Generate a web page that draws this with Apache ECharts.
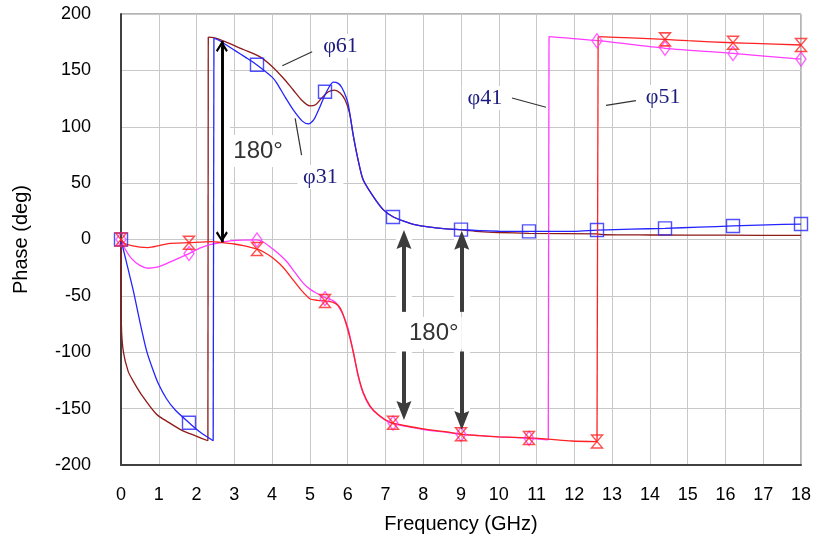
<!DOCTYPE html>
<html>
<head>
<meta charset="utf-8">
<script src="https://cdn.jsdelivr.net/npm/echarts@6.0.0/dist/echarts.min.js"></script>
<style>
  html, body { margin: 0; padding: 0; background: #ffffff; }
  #chart { width: 817px; height: 542px; }
</style>
</head>
<body>
<div id="chart"></div>
<script>
// Phase responses [frequency GHz, phase deg]; each curve is split where it wraps by 360°.
const phi61Low = [[0,0],[0.01,-75],[0.06,-99],[0.19,-117],[0.33,-126],[0.55,-138],[0.94,-155],[1.25,-162],[1.6,-169],[1.96,-174],[2.30,-178.5]];
const phi61High = [[2.31,179.5],[2.53,178.4],[3.0,172],[3.24,168.5],[3.68,162],[4.0,153.5],[4.3,143],[4.56,132.6],[4.8,123],[5.0,118.5],[5.15,119.5],[5.3,125],[5.49,131],[5.65,132.5],[5.8,130],[5.93,124],[6.05,112],[6.15,92],[6.28,70],[6.41,53],[6.68,38],[6.94,26.5],[7.21,20],[7.5,16],[7.74,13.5],[8.18,11],[8.62,9.5],[9.02,8.5],[9.5,7],[10,6.2],[10.8,5.5],[12.6,5.0],[12.8,4.2],[14,4],[16,3.8],[18,3.6]];

const phi31Low = [[0,0],[0.15,-21],[0.33,-46],[0.5,-73],[0.68,-99],[0.85,-116],[0.99,-128],[1.2,-141],[1.43,-151],[1.8,-162.5],[2.1,-171],[2.44,-178.5]];
const phi31High = [[2.46,178.5],[2.6,176.5],[3.02,167.5],[3.3,161.5],[3.59,155],[4.0,144],[4.12,139],[4.35,126],[4.56,115],[4.8,105],[4.96,102.5],[5.1,106],[5.27,118],[5.44,131],[5.62,139.5],[5.75,138.5],[5.84,135],[5.95,127],[6.02,119],[6.15,92],[6.28,70],[6.41,53],[6.68,38],[6.94,26.5],[7.21,20],[7.5,16],[7.74,13.5],[8.18,11],[8.62,9.5],[9.02,8.8],[9.5,7.8],[10,7.3],[10.8,7.2],[12,7.2],[12.6,8.4],[13.5,9.2],[14.4,9.9],[15.3,11],[16.2,12],[17.1,13],[18,13.7]];

const phi41Low = [[0,0],[0.1,-8],[0.28,-17],[0.5,-23],[0.72,-25.5],[0.95,-24.5],[1.16,-22],[1.5,-17],[1.8,-12.5],[2.1,-7.5],[2.31,-4.9],[2.67,-2.5],[2.88,-1.3],[3.2,-0.5],[3.59,-0.4],[3.75,-2],[3.94,-6.4],[4.15,-12],[4.39,-19.7],[4.6,-29],[4.83,-38.9],[5.0,-44],[5.18,-47.7],[5.4,-51.5],[5.6,-54],[5.71,-57],[5.82,-63],[5.92,-70],[6.02,-80],[6.15,-100],[6.28,-121.7],[6.41,-136.4],[6.59,-148.3],[6.81,-155.7],[7.12,-162.5],[7.56,-165.8],[8.0,-168.5],[8.62,-171],[9.02,-172.8],[9.5,-174],[10.0,-175],[10.8,-176.3],[11.31,-177.8]];
const phi41High = [[11.33,180],[12.63,176.3],[14.4,169.6],[16.2,165],[18,160]];

const phi51Low = [[0,0],[0.1,-3.5],[0.28,-5.5],[0.5,-6.8],[0.72,-7.2],[1.0,-5.5],[1.25,-3.6],[1.8,-2.8],[2.4,-1.9],[2.62,-2.5],[3.0,-4],[3.24,-5.5],[3.59,-8.4],[3.8,-11.5],[4.03,-16.7],[4.3,-25],[4.56,-36],[4.8,-46],[5.0,-52.5],[5.2,-54],[5.4,-54.5],[5.6,-55.5],[5.75,-58.5],[5.85,-64],[5.97,-76],[6.05,-86],[6.15,-100],[6.28,-120.5],[6.41,-135.5],[6.59,-147.5],[6.81,-155.5],[7.12,-162],[7.56,-165.4],[8.0,-168],[8.62,-170.7],[9.02,-172.8],[9.5,-174],[10,-175],[10.8,-176],[11.3,-177],[11.93,-178.7],[12.6,-179.2]];
const phi51High = [[12.63,180],[13.5,178.8],[14.4,177.5],[15.0,176.3],[16.2,174.5],[16.74,174],[18,172.5]];

// Marker positions (every 1.8 GHz)
const markerFreqs = [0, 1.8, 3.6, 5.4, 7.2, 9.0, 10.8, 12.6, 14.4, 16.2, 18];
const phi31Marks = [0, -162.5, 155, 131, 20, 8.8, 7.2, 8.4, 9.9, 12, 13.7];
const phi41Marks = [0, -12.5, -0.4, -52.5, -162.8, -172.8, -176.3, 176.3, 169.6, 165, 160];
const phi51Marks = [0, -2.8, -8.4, -54.5, -162.5, -172.8, -176, -179.2, 177.5, 174.5, 172.5];

// Curve labels: [text, frequency, phase] and leader lines [f0, p0, f1, p1]
const curveLabels = [['φ61', 5.81, 171.6], ['φ31', 5.28, 55.4], ['φ41', 9.63, 125.5], ['φ51', 14.35, 126.4]];
const leaderLines = [[4.27, 154.1, 5.06, 166.5], [4.61, 107.5, 4.78, 74.9], [10.35, 125.5, 11.25, 117.3], [12.84, 119, 13.63, 123.1]];

// 180° spans: black double arrow [f, tip1, tip2], grey arrows [f, tail, tip]
const spanArrow = [2.67, 176, -2.5];
const greyArrows = [[7.49, -64, 8.4], [9.02, -64, 7.8], [7.49, -99.5, -160], [9.02, -99.5, -169]];
const spanLabels = [['180°', 3.63, 78.5], ['180°', 8.28, -83]];

const COLORS = { phi61: '#8f1a1a', phi31: '#2424ff', phi41: '#ff3cff', phi51: '#ff2222' };
const SANS = 'Liberation Sans, Arial, Helvetica, sans-serif';
const SERIF = 'Liberation Serif, Times New Roman, serif';

const chevron = 'path://M50,0 L100,78 L86,92 L50,32 L14,92 L0,78 Z';
const arrowHead = 'path://M50,0 L100,100 L50,84 L0,100 Z';
const hourglass = 'path://M0,0 L10,0 L0,10 L10,10 Z';

// Arrow head sizes in px, and the y scale used to pull the head centre back from the tip
const CHEV = [12, 11], HEAD = [15, 19];
const PX_PER_DEG = 451 / 400;

function branch(data, color) {
  return { type: 'line', data: data, smooth: 0.25, symbol: 'none', showSymbol: false,
           lineStyle: { color: color, width: 1.3 }, silent: true, z: 2 };
}
function jump(a, b, color) {
  return { type: 'line', data: [a[a.length - 1], b[0]], symbol: 'none', showSymbol: false,
           lineStyle: { color: color, width: 1.3 }, silent: true, z: 2 };
}
function markers(vals, color, symbol, size) {
  return { type: 'scatter', data: markerFreqs.map((f, i) => [f, vals[i]]), symbol: symbol, symbolSize: size,
           itemStyle: { color: 'rgba(0,0,0,0)', borderColor: color, borderWidth: 1.4 }, silent: true, z: 3 };
}
function seg(f, a, b) { return [{ coord: [f, a] }, { coord: [f, b] }]; }
function pullBack(tail, tip, sizePx) {
  const d = (sizePx / 2) / PX_PER_DEG;
  return tip > tail ? tip - d : tip + d;
}
function markLineSeries(opts) {
  return { type: 'line', data: [], silent: true,
           markLine: Object.assign({ silent: true, animation: false, label: { show: false },
                                     emphasis: { disabled: true } }, opts) };
}

const series = [];
series.push(branch(phi61Low, COLORS.phi61), jump(phi61Low, phi61High, COLORS.phi61), branch(phi61High, COLORS.phi61));
series.push(branch(phi41Low, COLORS.phi41), jump(phi41Low, phi41High, COLORS.phi41), branch(phi41High, COLORS.phi41));
series.push(branch(phi31Low, COLORS.phi31), jump(phi31Low, phi31High, COLORS.phi31), branch(phi31High, COLORS.phi31));
series.push(branch(phi51Low, COLORS.phi51), jump(phi51Low, phi51High, COLORS.phi51), branch(phi51High, COLORS.phi51));
series.push(markers(phi41Marks, COLORS.phi41, 'diamond', [10, 14]));
series.push(markers(phi31Marks, COLORS.phi31, 'rect', [13, 13]));
series.push(markers(phi51Marks, COLORS.phi51, hourglass, [11, 13]));

// White halos behind the arrows so grid lines break around them
series.push(markLineSeries({
  z: 1, symbol: ['none', 'none'],
  lineStyle: { color: '#ffffff', width: 16, type: 'solid', cap: 'butt' },
  data: [seg(spanArrow[0], spanArrow[1], spanArrow[2])].concat(greyArrows.map(a => seg(a[0], a[1], a[2])))
}));

// Black double-headed arrow: shaft, then the two open heads
series.push(markLineSeries({
  z: 6, symbol: ['none', 'none'],
  lineStyle: { color: '#000000', width: 2.6, type: 'solid' },
  data: [seg(spanArrow[0], spanArrow[1], spanArrow[2])]
}));
series.push(markLineSeries({
  z: 6, symbol: [chevron, chevron], symbolSize: CHEV,
  lineStyle: { color: '#000000', width: 2.6, type: 'solid' },
  data: [seg(spanArrow[0], pullBack(spanArrow[2], spanArrow[1], CHEV[1]), pullBack(spanArrow[1], spanArrow[2], CHEV[1]))]
}));

// Grey arrows pointing at the curves: shafts, then heads
series.push(markLineSeries({
  z: 6, symbol: ['none', 'none'],
  lineStyle: { color: '#3c3c3c', width: 3.8, type: 'solid' },
  data: greyArrows.map(a => seg(a[0], a[1], pullBack(a[1], a[2], HEAD[1])))
}));
series.push(markLineSeries({
  z: 6, symbol: ['none', arrowHead], symbolSize: HEAD,
  lineStyle: { color: '#3c3c3c', width: 3.8, type: 'solid' },
  data: greyArrows.map(a => seg(a[0], a[1], pullBack(a[1], a[2], HEAD[1])))
}));

// Leader lines
series.push(markLineSeries({
  z: 6, symbol: ['none', 'none'],
  lineStyle: { color: '#333333', width: 1.2, type: 'solid' },
  data: leaderLines.map(l => [{ coord: [l[0], l[1]] }, { coord: [l[2], l[3]] }])
}));

// Text labels on white boxes
series.push({
  type: 'line', data: [], silent: true,
  markPoint: {
    z: 7, silent: true, animation: false,
    data: curveLabels.map(l => ({
      coord: [l[1], l[2]], symbol: 'rect', symbolSize: [46, 24],
      itemStyle: { color: '#ffffff' },
      label: { show: true, position: 'inside', formatter: l[0], color: '#1c1c80',
               fontFamily: SERIF, fontSize: 22 }
    })).concat(spanLabels.map(l => ({
      coord: [l[1], l[2]], symbol: 'rect', symbolSize: [56, 32],
      itemStyle: { color: '#ffffff' },
      label: { show: true, position: 'inside', formatter: l[0], color: '#333333',
               fontFamily: SANS, fontSize: 24 }
    })))
  }
});

const chart = echarts.init(document.getElementById('chart'), null, { renderer: 'canvas' });
chart.setOption({
  animation: false,
  backgroundColor: '#ffffff',
  grid: { left: 121, right: 16, top: 14, bottom: 77, show: true, borderColor: '#6a6a6a', borderWidth: 1,
          containLabel: false, outerBoundsMode: 'none' },
  xAxis: {
    type: 'value', min: 0, max: 18, interval: 1,
    name: 'Frequency (GHz)', nameLocation: 'middle', nameGap: 49,
    nameTextStyle: { fontFamily: SANS, fontSize: 20, color: '#000000' },
    axisLine: { show: true, onZero: false, lineStyle: { color: '#404040', width: 2 } },
    axisTick: { show: false },
    axisLabel: { margin: 21, fontFamily: SANS, fontSize: 18, color: '#000000' },
    splitLine: { show: true, lineStyle: { color: '#c8c8c8', width: 1 } }
  },
  yAxis: {
    type: 'value', min: -200, max: 200, interval: 50,
    name: 'Phase (deg)', nameLocation: 'middle', nameGap: 90, nameRotate: 90,
    nameTextStyle: { fontFamily: SANS, fontSize: 20, color: '#000000' },
    axisLine: { show: true, onZero: false, lineStyle: { color: '#404040', width: 2 } },
    axisTick: { show: false },
    axisLabel: { margin: 30, fontFamily: SANS, fontSize: 18, color: '#000000' },
    splitLine: { show: true, lineStyle: { color: '#c8c8c8', width: 1 } }
  },
  series: series
});
</script>
</body>
</html>
